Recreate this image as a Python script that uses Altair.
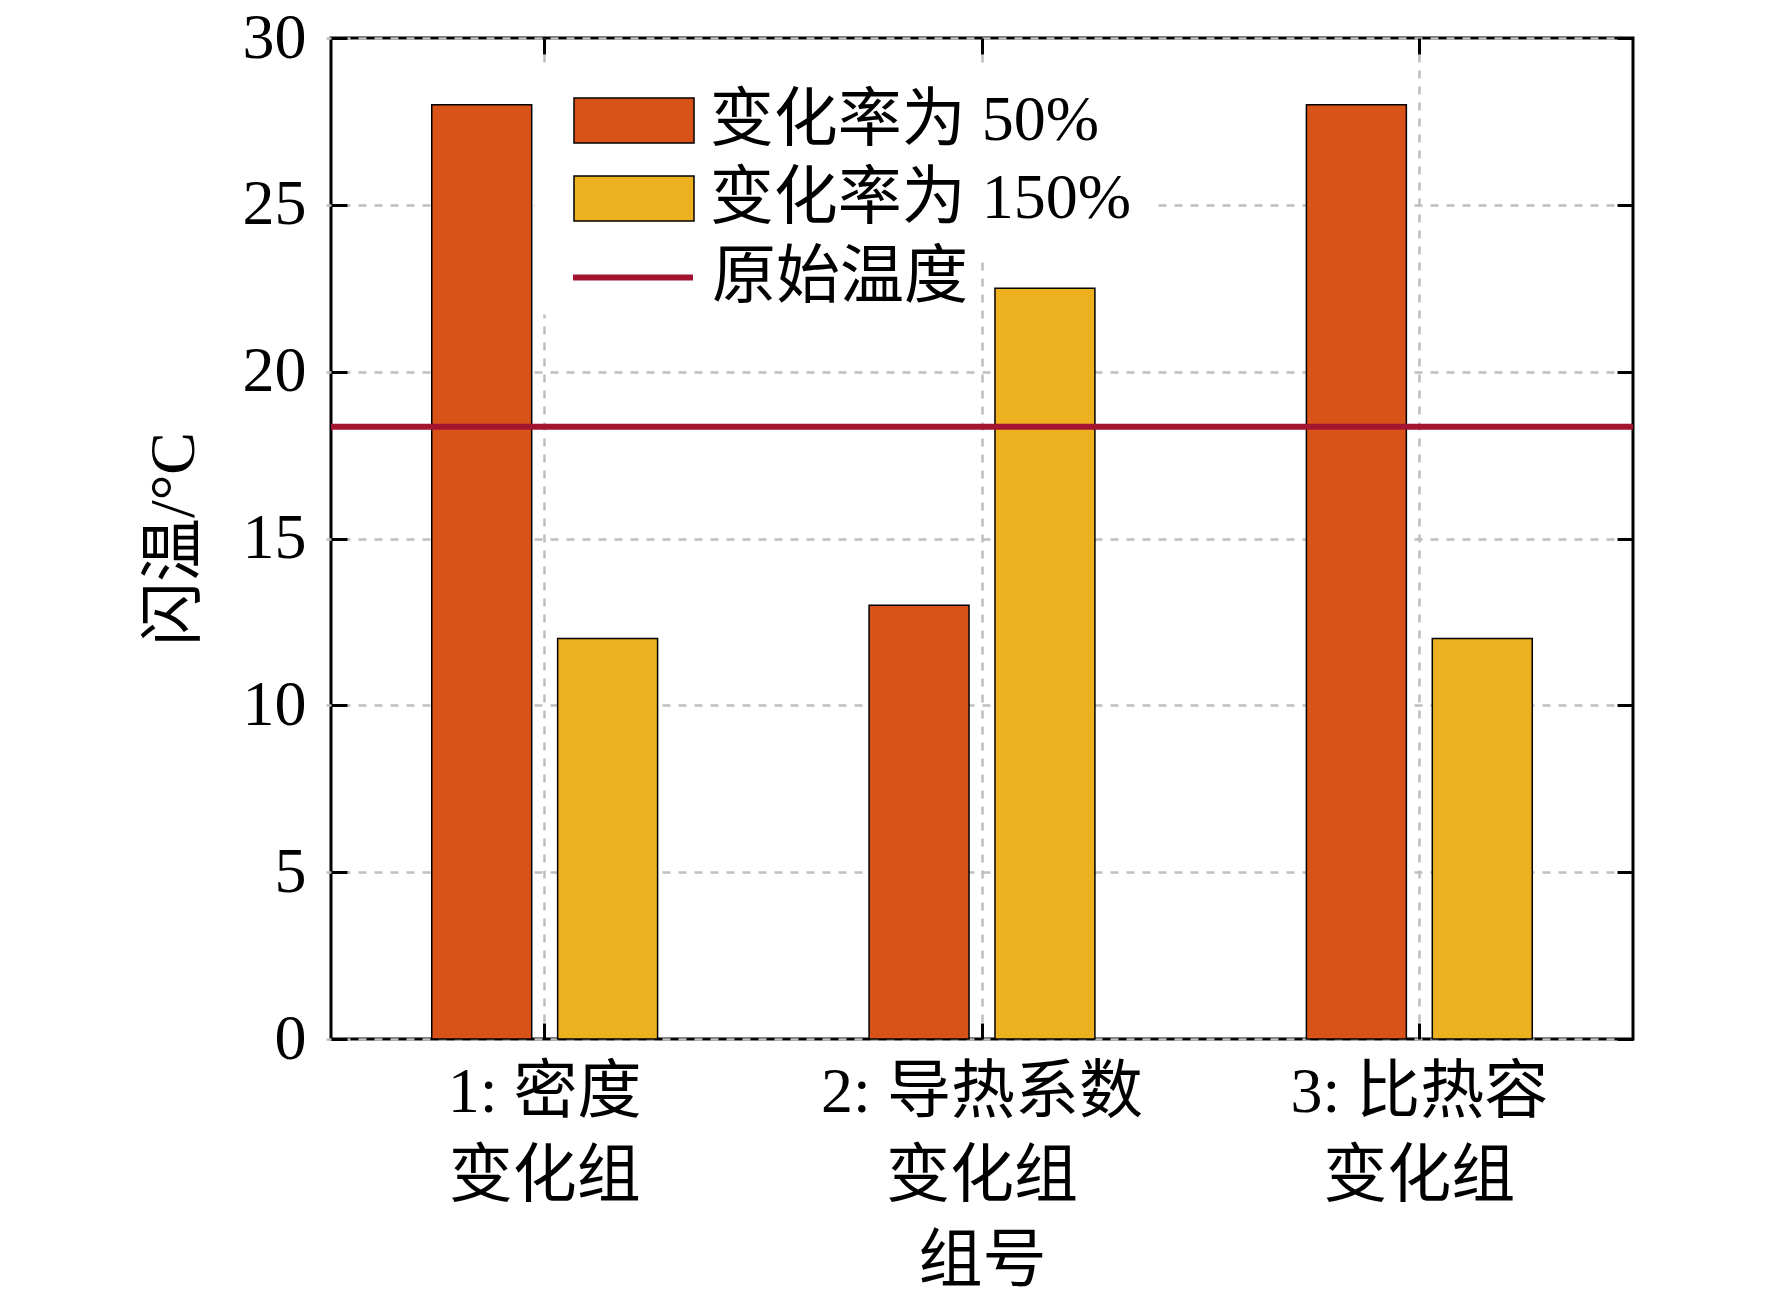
import altair as alt
import pandas as pd

# ---- data ----
groups = ["1: 密度|变化组", "2: 导热系数|变化组", "3: 比热容|变化组"]
series = ["变化率为 50%", "变化率为 150%"]
values_50 = [28, 13, 28]
values_150 = [12, 22.5, 12]
original_temp = [18.35]
line_label = ["原始温度"]
y_ticks = [0, 5, 10, 15, 20, 25, 30]

bar_colors = ["#D95319", "#EDB120"]
line_color = "#A2142F"
FONT = "Liberation Serif, Noto Sans CJK SC"
FS = 64

rows = []
for g, a, b in zip(groups, values_50, values_150):
    rows.append({"group": g, "series": series[0], "value": a})
    rows.append({"group": g, "series": series[1], "value": b})
bars_df = pd.DataFrame(rows)
line_df = pd.DataFrame({"temp": original_temp, "line": line_label})

x_scale = alt.Scale(domain=groups, paddingInner=0, paddingOuter=0, range=[-5, 1307])
y_scale = alt.Scale(domain=[0, 30], nice=False)

common_tick = dict(offset=-16, tickSize=16, tickWidth=3, tickColor="black", domain=False)
grid_style = dict(gridDash=[8, 8], gridColor="#bfbfbf", gridWidth=2.5)

top_axis_layer = alt.Chart(bars_df).mark_bar(opacity=0).encode(
    x=alt.X("group:N", scale=x_scale, sort=groups,
            axis=alt.Axis(orient="top", labels=False, title=None, grid=False,
                          bandPosition=0.5, **common_tick)),
    y=alt.Y("value:Q", scale=y_scale, axis=None),
)

bars = alt.Chart(bars_df).mark_bar(stroke="black", strokeWidth=1.5).encode(
    x=alt.X("group:N", scale=x_scale, sort=groups,
            axis=alt.Axis(orient="bottom", title="组号",
                          labelExpr="split(datum.label, '|')",
                          labelAngle=0, labelPadding=21, labelLineHeight=84,
                          labelLimit=800,
                          labelFont=FONT, labelFontSize=FS, labelColor="black",
                          titleFont=FONT, titleFontSize=FS, titleColor="black",
                          titleFontWeight="normal", titlePadding=21,
                          grid=True, bandPosition=0.5, **grid_style, **common_tick)),
    xOffset=alt.XOffset("series:N", sort=series,
                        scale=alt.Scale(domain=series, paddingInner=0.206, paddingOuter=0.84)),
    y=alt.Y("value:Q", scale=y_scale,
            axis=alt.Axis(orient="left", title="闪温/°C", values=y_ticks, format="d",
                          labelPadding=25, labelFont=FONT, labelFontSize=FS, labelColor="black",
                          titleFont=FONT, titleFontSize=FS, titleColor="black",
                          titleFontWeight="normal", titlePadding=36,
                          grid=True, **grid_style, **common_tick)),
    color=alt.Color("series:N", scale=alt.Scale(domain=series, range=bar_colors),
                    legend=alt.Legend(orient="none", legendX=204, legendY=25.5, title=None,
                                      symbolType="M-0.6,-0.75H3.4V0.75H-0.6Z", symbolSize=3600,
                                      symbolStrokeColor="black", symbolStrokeWidth=1.5,
                                      symbolOpacity=1,
                                      labelFont=FONT, labelFontSize=FS, labelColor="black",
                                      labelOffset=85.7, rowPadding=14, padding=25,
                                      fillColor="white", labelLimit=800)),
)

rule = alt.Chart(line_df).mark_rule(strokeWidth=6).encode(
    y=alt.Y("temp:Q", scale=y_scale,
            axis=alt.Axis(orient="right", labels=False, title=None, grid=False,
                          values=y_ticks, **common_tick)),
    stroke=alt.Stroke("line:N", scale=alt.Scale(domain=line_label, range=[line_color]),
                      legend=alt.Legend(orient="none", legendX=204, legendY=201.5, title=None,
                                        symbolType="M0,0H4", symbolSize=3600,
                                        symbolStrokeWidth=6,
                                        labelFont=FONT, labelFontSize=FS, labelColor="black",
                                        labelOffset=106, padding=5, fillColor="white",
                                        labelLimit=800)),
)

chart = alt.layer(top_axis_layer, bars, rule).resolve_axis(
    x="independent", y="independent"
).properties(
    width=1302, height=1001,
    autosize=alt.AutoSizeParams(type="none"),
    padding={"left": 323, "top": 30, "right": 120, "bottom": 261},
    background="white",
).configure_view(stroke="black", strokeWidth=3)

chart.save("out.html", embed_options={"renderer": "svg", "actions": False})
